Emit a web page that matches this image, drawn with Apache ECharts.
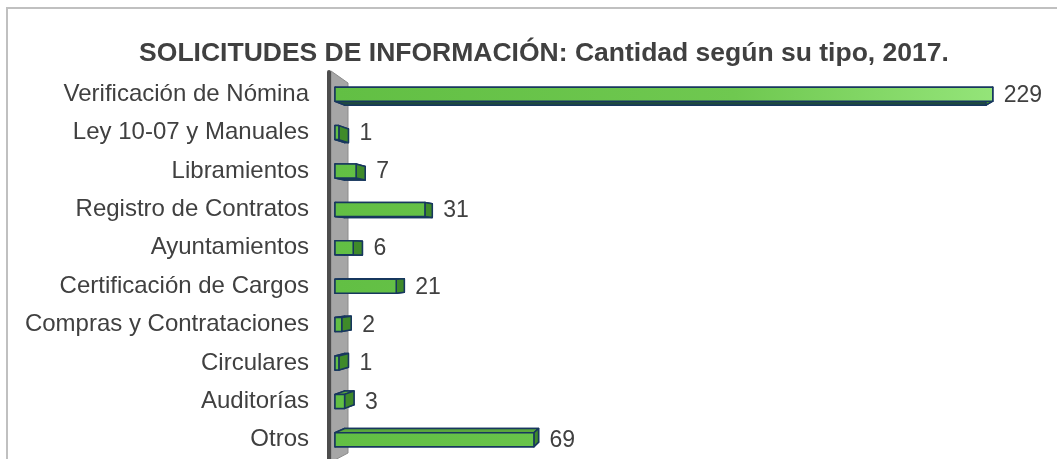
<!DOCTYPE html>
<html>
<head>
<meta charset="utf-8">
<script src="https://cdn.jsdelivr.net/npm/echarts@6/dist/echarts.min.js"></script>
<style>
  html, body { margin: 0; padding: 0; background: #fff; }
  #chart { width: 1057px; height: 459px; }
</style>
</head>
<body>
<div id="chart"></div>
<script>
// categorias y cantidades
const categories = [
  "Verificación de Nómina",
  "Ley 10-07 y Manuales",
  "Libramientos",
  "Registro de Contratos",
  "Ayuntamientos",
  "Certificación de Cargos",
  "Compras y Contrataciones",
  "Circulares",
  "Auditorías",
  "Otros",
];
const values = [229, 1, 7, 31, 6, 21, 2, 1, 3, 69];

const chart = echarts.init(document.getElementById("chart"));

// perspectiva de las barras 3D
const VP = [720, 260];
const K = 0.025;
const BH = 14;

const renderBar = (params, api) => {
  const v = api.value(0);
  const c = api.value(1);
  const p0 = api.coord([0, c]);
  const p1 = api.coord([v, c]);
  const x0 = p0[0] - 1, x1 = p1[0];
  const y0 = p0[1] - BH / 2, y1 = p0[1] + BH / 2;
  const back = (p) => [p[0] + (VP[0] - p[0]) * K, p[1] + (VP[1] - p[1]) * K];
  const f = [[x0, y0], [x1, y0], [x1, y1], [x0, y1]];
  const b = f.map(back);
  const stroke = { stroke: "#17375e", lineWidth: 1.5, lineJoin: "round" };
  const face = (pts, fill) => ({
    type: "polygon",
    shape: { points: pts },
    style: Object.assign({ fill: fill }, stroke),
  });
  const rightEdge = Math.max(x1, b[1][0]);
  return {
    type: "group",
    children: [
      face(b, "#3d7a2c"),
      face([f[0], f[3], b[3], b[0]], "#3d7a2c"),
      face([f[0], f[1], b[1], b[0]], "#5aa83c"),
      face([f[3], f[2], b[2], b[3]], "#1f4a40"),
      face([f[1], f[2], b[2], b[1]], "#3f8a2a"),
      {
        type: "rect",
        shape: { x: x0, y: y0, width: x1 - x0, height: BH },
        style: Object.assign(
          {
            fill: new echarts.graphic.LinearGradient(336, 0, 1000, 0, [
              { offset: 0, color: "#62bf44" },
              { offset: 0.6, color: "#6fc850" },
              { offset: 1, color: "#95e57a" },
            ], true),
          },
          stroke
        ),
      },
      {
        type: "text",
        style: {
          x: rightEdge + 11,
          y: p0[1] + 1,
          text: String(v),
          fill: "#404040",
          fontSize: 23,
          fontFamily: "Liberation Sans, Arial",
          verticalAlign: "middle",
        },
      },
    ],
  };
};

const option = {
  animation: false,
  backgroundColor: "#fff",
  title: {
    text: "SOLICITUDES DE INFORMACIÓN: Cantidad según su tipo, 2017.",
    left: 539,
    textAlign: "center",
    top: 35,
    textStyle: {
      color: "#404040",
      fontSize: 26.5,
      fontWeight: "bold",
      fontFamily: "Liberation Sans, Arial",
    },
  },
  grid: {
    left: 336,
    right: 4,
    top: 75,
    bottom: 0,
  },
  xAxis: {
    type: "value",
    min: 0,
    max: 250,
    show: false,
  },
  yAxis: {
    type: "category",
    inverse: true,
    data: categories,
    axisLine: { show: false },
    axisTick: { show: false },
    splitLine: { show: false },
    axisLabel: {
      color: "#404040",
      fontSize: 24,
      fontFamily: "Liberation Sans, Arial",
      margin: 27,
    },
  },
  graphic: [
    // marco
    { type: "line", shape: { x1: 6, y1: 8, x2: 1057, y2: 8 }, style: { stroke: "#c0c0c0", lineWidth: 2 } },
    { type: "line", shape: { x1: 7, y1: 7, x2: 7, y2: 459 }, style: { stroke: "#c0c0c0", lineWidth: 2 } },
    // pared lateral gris
    {
      type: "polygon",
      shape: { points: [[331, 71], [348, 83], [348, 453], [331, 462]] },
      style: { fill: "#a6a6a6", stroke: "#8c8c8c", lineWidth: 1 },
      z: 0,
    },
    {
      type: "rect",
      shape: { x: 327, y: 70, width: 4, height: 400, r: [2, 2, 0, 0] },
      style: { fill: "#4d4d4d" },
      z: 0,
    },
  ],
  series: [
    {
      type: "custom",
      renderItem: renderBar,
      encode: { x: 0, y: 1 },
      data: values.map((v, i) => [v, i]),
      z: 5,
    },
  ],
};

chart.setOption(option);
</script>
</body>
</html>
